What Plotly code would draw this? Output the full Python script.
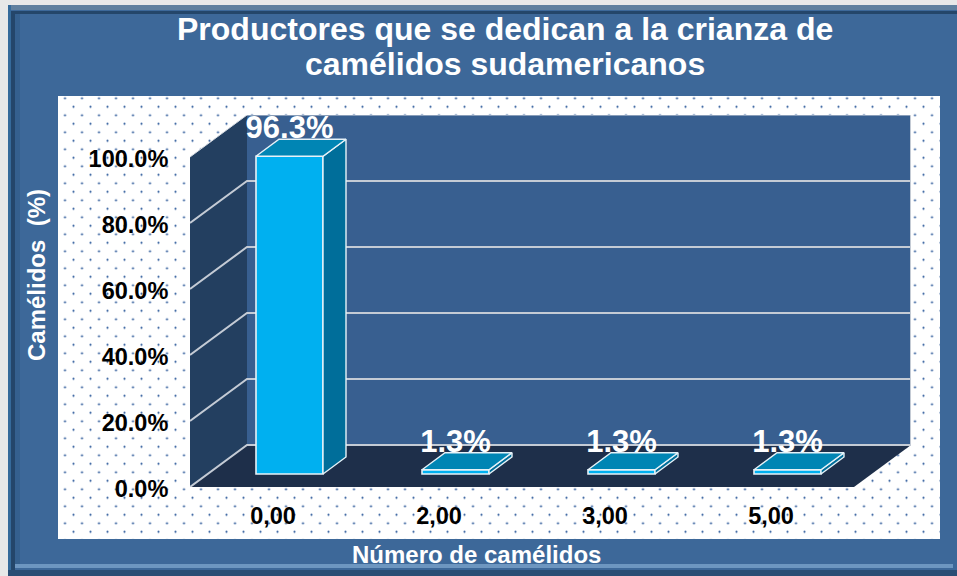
import plotly.graph_objects as go

W, H = 957, 576
categories = ["0,00", "2,00", "3,00", "5,00"]
values = [96.3, 1.3, 1.3, 1.3]
value_labels = ["96.3%", "1.3%", "1.3%", "1.3%"]
y_ticks = [0, 20, 40, 60, 80, 100]
y_tick_labels = ["0.0%", "20.0%", "40.0%", "60.0%", "80.0%", "100.0%"]
title_lines = ["Productores que se dedican a la crianza de", "camélidos sudamericanos"]
x_title = "Número de camélidos"
y_title = "Camélidos\u00a0\u00a0(%)"

# pseudo-3D projection, in axis units
DX, DY = 57 / 166, 42 / 3.3
BAR_W, BAR_OFF_X, BAR_BASE = 67 / 166, 16.5 / 166, 13 / 3.3
BAR_DX, BAR_DY = 23 / 166, 17 / 3.3
X0, X1 = -0.5, 3.5

def px_dom(a, b, total):
    return [a / total, b / total]

def py_dom(top, bottom):
    return [(H - bottom) / H, (H - top) / H]

fig = go.Figure()

# dotted white chart background: two staggered pattern layers
def dots(xa, ya, x0, y0, fill):
    fig.add_trace(go.Bar(
        x=[(max(x0, 58) + 940) / 2], y=[539 - max(y0, 96)], base=[max(y0, 96)],
        width=[940 - max(x0, 58)], xaxis=xa, yaxis=ya, hoverinfo="skip", showlegend=False,
        marker=dict(color=fill, line=dict(width=0),
                    pattern=dict(shape=".", size=17, solidity=0.012, fgcolor="#1f4f94",
                                 bgcolor=fill, fgopacity=1, fillmode="replace"))))

dots("x", "y", 56.5, 89.8, "#ffffff")
dots("x2", "y2", 65, 98.3, "rgba(255,255,255,0)")

# walls and floor
def poly(xs, ys, fill, line=None, lw=0, xa="x3", ya="y3"):
    fig.add_trace(go.Scatter(
        x=xs + xs[:1], y=ys + ys[:1], mode="lines", fill="toself", fillcolor=fill,
        line=dict(color=line or fill, width=lw), xaxis=xa, yaxis=ya,
        hoverinfo="skip", showlegend=False))

def seg(xs, ys, color="#c4cbd5", lw=2, xa="x3", ya="y3"):
    fig.add_trace(go.Scatter(x=xs, y=ys, mode="lines", line=dict(color=color, width=lw),
                             xaxis=xa, yaxis=ya, hoverinfo="skip", showlegend=False))

top = y_ticks[-1]
poly([X0 + DX, X1 + DX, X1 + DX, X0 + DX], [DY, DY, top + DY, top + DY], "#385f90")
poly([X0, X0 + DX, X0 + DX, X0], [0, DY, top + DY, top], "#233f60")
poly([X0, X1, X1 + DX, X0 + DX], [0, 0, DY, DY], "#1e2f4a")
for t in y_ticks:
    if t < top:
        seg([X0, X0 + DX, X1 + DX], [t, t + DY, t + DY])
seg([X1 + DX, X1 + DX], [DY, top + DY])
seg([X0, X0 + DX, X1 + DX], [top, top + DY, top + DY], color="#d8dce2", lw=1)

# bars
fig.add_trace(go.Bar(
    x=[i + BAR_OFF_X for i in range(len(values))], y=values, base=[BAR_BASE] * len(values),
    width=[BAR_W] * len(values), xaxis="x4", yaxis="y4", hoverinfo="skip", showlegend=False,
    marker=dict(color="#00b0f0", line=dict(color="#e6f2f8", width=1.6))))
for i, v in enumerate(values):
    l = i + BAR_OFF_X - BAR_W / 2
    r = l + BAR_W
    b, t = BAR_BASE, BAR_BASE + v
    poly([r, r + BAR_DX, r + BAR_DX, r], [b, b + BAR_DY, t + BAR_DY, t], "#006e9a", "#e6f2f8", 1.4, "x4", "y4")
    poly([l, r, r + BAR_DX, l + BAR_DX], [t, t, t + BAR_DY, t + BAR_DY], "#0085b4", "#e6f2f8", 1.4, "x4", "y4")

fig.add_trace(go.Scatter(
    x=[i + BAR_OFF_X for i in range(len(values))],
    y=[v + BAR_BASE + BAR_DY - 2.1 for v in values],
    mode="text", text=value_labels, textposition="top center", cliponaxis=False,
    textfont=dict(family="Liberation Sans", size=31, color="#ffffff", weight="bold"),
    xaxis="x4", yaxis="y4", hoverinfo="skip", showlegend=False))

hidden = dict(visible=False, fixedrange=True)
cx = px_dom(190, 911, W)
cy = py_dom(115, 487)
rng_x = [X0, X1 + DX]
rng_y = [0, top + DY]
tick_font = dict(family="Liberation Sans", size=23.5, color="#000000", weight="bold")
label_font = dict(family="Liberation Sans", size=24, color="#ffffff", weight="bold")

layout = dict(
    width=W, height=H, autosize=False, margin=dict(l=0, r=0, t=0, b=0, pad=0),
    paper_bgcolor="#3d6899", plot_bgcolor="rgba(0,0,0,0)", showlegend=False, barmode="overlay",
    font=dict(family="Liberation Sans", color="#000000"),
    # helper axes in page pixels for the dot layers
    xaxis=dict(domain=px_dom(56.5, 940, W), range=[56.5, 940], **hidden),
    yaxis=dict(domain=py_dom(89.8, 539), range=[539, 89.8], **hidden),
    xaxis2=dict(domain=px_dom(65, 940, W), range=[65, 940], anchor="y2", **hidden),
    yaxis2=dict(domain=py_dom(98.3, 539), range=[539, 98.3], anchor="x2", **hidden),
    xaxis3=dict(domain=cx, range=rng_x, anchor="y3", tickmode="array", tickvals=list(range(len(categories))),
                ticktext=categories, ticks="outside", ticklen=8, tickcolor="rgba(0,0,0,0)",
                tickfont=tick_font, automargin=False,
                showgrid=False, zeroline=False, showline=False, fixedrange=True),
    yaxis3=dict(domain=cy, range=rng_y, anchor="x3", tickmode="array", tickvals=y_ticks,
                ticktext=y_tick_labels, ticks="outside", ticklen=16, tickcolor="rgba(0,0,0,0)",
                tickfont=tick_font, automargin=False, ticklabelshift=2,
                showgrid=False, zeroline=False, showline=False, fixedrange=True),
    xaxis4=dict(domain=cx, range=rng_x, anchor="y4", **hidden),
    yaxis4=dict(domain=cy, range=rng_y, anchor="x4", **hidden),
    annotations=[
        dict(text=title_lines[j], x=505 / W, y=1 - yc / H, xref="paper", yref="paper",
             xanchor="center", yanchor="middle", showarrow=False,
             font=dict(family="Liberation Sans", size=32, color="#ffffff", weight="bold"))
        for j, yc in enumerate([29, 64])
    ] + [
        dict(text=x_title, x=476.5 / W, y=1 - 554 / H, xref="paper", yref="paper",
             xanchor="center", yanchor="middle", showarrow=False, font=label_font),
        dict(text=y_title, x=36 / W, y=1 - 275 / H, xref="paper", yref="paper", textangle=-90,
             xanchor="center", yanchor="middle", showarrow=False, font=label_font),
    ],
)

# frame bands (page fractions)
def band(x0, y0, x1, y1, color):
    return dict(type="rect", xref="paper", yref="paper", layer="below", line=dict(width=0), fillcolor=color,
                x0=x0 / W, x1=x1 / W, y0=1 - y0 / H, y1=1 - y1 / H)

layout["shapes"] = [
    band(0, 0, W, 5, "#e8e8e8"),
    band(0, 0, 8, H, "#e8e8e8"),
    band(8, 5, W, 10, "#5f7f9e"),
    band(8, 5, 11, H, "#356a9a"),
    band(11, 11, W, 14, "#24466a"),
    band(11, 11, 15, 570, "#24466a"),
    band(15, 14, 20, 564, "#35608e"),
    band(15, 564, W - 4, 568, "#6d96c0"),
    band(8, 570, W, H, "#2a4d74"),
]

fig.update_layout(**layout)
fig.write_html("out.html", config={"displayModeBar": False},
               post_script="document.body.style.margin='0';document.body.style.overflow='hidden';")
